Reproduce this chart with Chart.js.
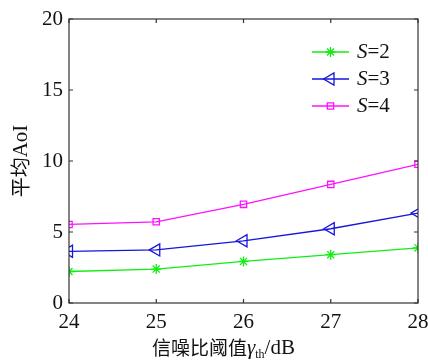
<!DOCTYPE html>
<html>
<head>
<meta charset="utf-8">
<script src="https://cdn.jsdelivr.net/npm/chart.js@4"></script>
<style>
  html, body { margin: 0; padding: 0; background: #fff; }
  #wrap { width: 428px; height: 360px; }
</style>
</head>
<body>
<div id="wrap"><canvas id="aoi" width="428" height="360"></canvas></div>
<script>
// data
var snr = [24, 25, 26, 27, 28];
var s2 = [2.22, 2.39, 2.93, 3.40, 3.88];
var s3 = [3.64, 3.74, 4.38, 5.23, 6.33];
var s4 = [5.53, 5.72, 6.95, 8.35, 9.77];
var yTicks = [0, 5, 10, 15, 20];
var seriesNames = ['2', '3', '4'];

var serif = '"Liberation Serif", "DejaVu Serif", serif';
var cjk = '"Noto Sans CJK SC", sans-serif';

function pts(vals){
    return vals.map(function(v, i){ return {x: snr[i], y: v}; });
}

var sets = [
    {label: 'S=2', data: pts(s2), borderColor: '#11ee11', pointStyle: 'star', pointRadius: 5, pointRotation: 0},
    {label: 'S=3', data: pts(s3), borderColor: '#1515dd', pointStyle: 'triangle', pointRadius: 7, pointRotation: -90},
    {label: 'S=4', data: pts(s4), borderColor: '#ff11ff', pointStyle: 'rect', pointRadius: 4.5, pointRotation: 0}
];
sets.forEach(function(d){
    d.backgroundColor = 'rgba(0,0,0,0)';
    d.pointBorderColor = d.borderColor;
    d.pointBackgroundColor = 'rgba(0,0,0,0)';
    d.borderWidth = 1.3;
    d.pointBorderWidth = 1.3;
    d.tension = 0;
});

var frame = {
    id: 'frame',
    afterDraw: function(chart){
        var ctx = chart.ctx, a = chart.chartArea;
        var xs = chart.scales.x, ys = chart.scales.y;
        ctx.save();
        ctx.strokeStyle = '#333';
        ctx.lineWidth = 1.2;
        ctx.strokeRect(a.left, a.top, a.right - a.left, a.bottom - a.top);
        ctx.beginPath();
        snr.forEach(function(v){
            var px = xs.getPixelForValue(v);
            ctx.moveTo(px, a.bottom); ctx.lineTo(px, a.bottom - 4);
            ctx.moveTo(px, a.top); ctx.lineTo(px, a.top + 4);
        });
        yTicks.forEach(function(v){
            var py = ys.getPixelForValue(v);
            ctx.moveTo(a.left, py); ctx.lineTo(a.left + 4, py);
            ctx.moveTo(a.right, py); ctx.lineTo(a.right - 4, py);
        });
        ctx.stroke();

        // legend
        ctx.textBaseline = 'middle';
        sets.forEach(function(d, i){
            var y = 52 + i * 27;
            ctx.strokeStyle = d.borderColor;
            ctx.lineWidth = 1.3;
            ctx.beginPath();
            ctx.moveTo(312, y); ctx.lineTo(349, y);
            ctx.stroke();
            ctx.fillStyle = 'rgba(0,0,0,0)';
            Chart.helpers.drawPoint(ctx, {
                pointStyle: d.pointStyle, radius: d.pointRadius,
                rotation: d.pointRotation, borderWidth: 1.3
            }, 330.5, y);
            ctx.fillStyle = '#111';
            ctx.font = 'italic 21px ' + serif;
            ctx.textAlign = 'left';
            ctx.fillText('S', 357, y);
            var w = ctx.measureText('S').width;
            ctx.font = '21px ' + serif;
            ctx.fillText('=' + seriesNames[i], 357 + w, y);
        });

        // axis titles
        ctx.fillStyle = '#111';
        ctx.textBaseline = 'alphabetic';
        var x = 152, by = 355;
        ctx.font = '19px ' + cjk;
        ctx.fillText('信噪比阈值', x, by);
        x += ctx.measureText('信噪比阈值').width;
        ctx.font = 'italic 21px ' + serif;
        ctx.fillText('γ', x, by - 1);
        x += ctx.measureText('γ').width;
        ctx.font = '12px ' + serif;
        ctx.fillText('th', x, by + 3);
        x += ctx.measureText('th').width;
        ctx.font = '21px ' + serif;
        ctx.fillText('/dB', x, by - 1);

        ctx.translate(20, 161);
        ctx.rotate(-Math.PI / 2);
        ctx.textBaseline = 'middle';
        var t1 = '平均', t2 = 'AoI';
        ctx.font = '20px ' + cjk;
        var w1 = ctx.measureText(t1).width;
        ctx.font = '21px ' + serif;
        var w2 = ctx.measureText(t2).width;
        var sx = -(w1 + w2) / 2;
        ctx.textAlign = 'left';
        ctx.font = '20px ' + cjk;
        ctx.fillText(t1, sx, 0);
        ctx.font = '21px ' + serif;
        ctx.fillText(t2, sx + w1, 1);
        ctx.restore();
    }
};

var chart = new Chart(document.getElementById('aoi').getContext('2d'), {
    type: 'line',
    data: {datasets: sets},
    plugins: [frame],
    options: {
        responsive: false,
        animation: false,
        layout: {padding: {left: 0, top: 19, right: 10, bottom: 0}},
        plugins: {legend: {display: false}, tooltip: {enabled: false}},
        scales: {
            x: {
                type: 'linear', min: 24, max: 28,
                grid: {display: false, drawTicks: false},
                border: {display: false},
                afterBuildTicks: function(s){ s.ticks = snr.map(function(v){ return {value: v}; }); },
                afterFit: function(s){ s.height = 57; s.paddingLeft = 0; s.paddingRight = 0; },
                ticks: {color: '#111', font: {family: serif, size: 21}, padding: 7, maxRotation: 0}
            },
            y: {
                min: 0, max: 20,
                grid: {display: false, drawTicks: false},
                border: {display: false},
                afterBuildTicks: function(s){ s.ticks = yTicks.map(function(v){ return {value: v}; }); },
                afterFit: function(s){ s.width = 69; s.paddingTop = 0; s.paddingBottom = 0; },
                ticks: {color: '#111', font: {family: serif, size: 21}, padding: 6}
            }
        }
    }
});
</script>
</body>
</html>
